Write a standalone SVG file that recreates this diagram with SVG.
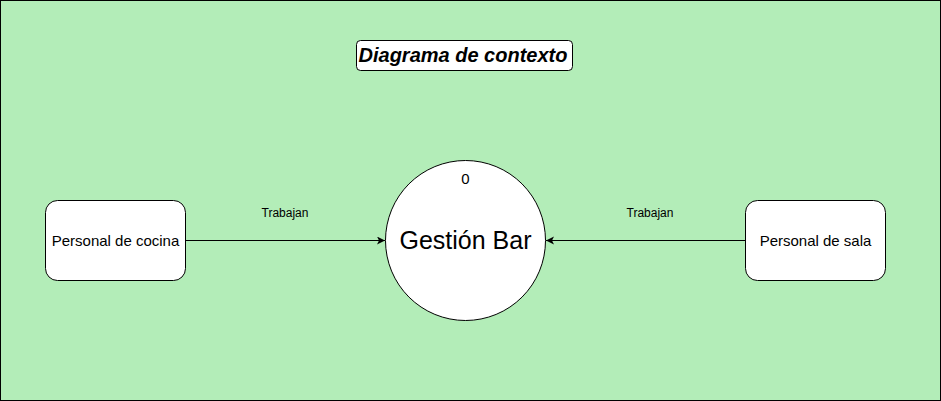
<svg xmlns="http://www.w3.org/2000/svg" width="941" height="401" viewBox="0 0 941 401">
<defs>
<style>
.node{fill:#ffffff;stroke:#000000;stroke-width:1}
.t{font-family:"Liberation Sans",Arial,Helvetica,sans-serif;fill:#000000}
.edge{stroke:#000000;stroke-width:1;fill:none}
</style>
<marker id="arr" markerWidth="10" markerHeight="10" refX="8" refY="4" orient="auto" markerUnits="userSpaceOnUse">
<path d="M0,0 L8,4 L0,8 L2,4 Z" fill="#000"/>
</marker>
</defs>
<rect x="0.5" y="0.5" width="940" height="400" fill="#b3edb8" stroke="#000"/>
<g id="title">
<rect class="node" x="356.5" y="40.5" width="216" height="30" rx="4"/>
<text class="t" x="463" y="62" font-size="20" font-weight="bold" font-style="italic" text-anchor="middle">Diagrama de contexto</text>
</g>
<g id="connectors">
<line class="edge" x1="185.5" y1="240.5" x2="385" y2="240.5" marker-end="url(#arr)"/>
<text class="t" x="285" y="217" font-size="12" text-anchor="middle">Trabajan</text>
<line class="edge" x1="745.5" y1="240.5" x2="546" y2="240.5" marker-end="url(#arr)"/>
<text class="t" x="650" y="217" font-size="12" text-anchor="middle">Trabajan</text>
</g>
<g id="cocina">
<rect class="node" x="45.5" y="200.5" width="140" height="80" rx="12"/>
<text class="t" x="115.5" y="245.5" font-size="15" text-anchor="middle">Personal de cocina</text>
</g>
<g id="sala">
<rect class="node" x="745.5" y="200.5" width="140" height="80" rx="12"/>
<text class="t" x="815.5" y="245.5" font-size="15" text-anchor="middle">Personal de sala</text>
</g>
<g id="gestion">
<circle class="node" cx="465.5" cy="240.5" r="80"/>
<text class="t" x="465.5" y="184" font-size="15" text-anchor="middle">0</text>
<text class="t" x="465.5" y="249" font-size="25" text-anchor="middle">Gestión Bar</text>
</g>
</svg>
